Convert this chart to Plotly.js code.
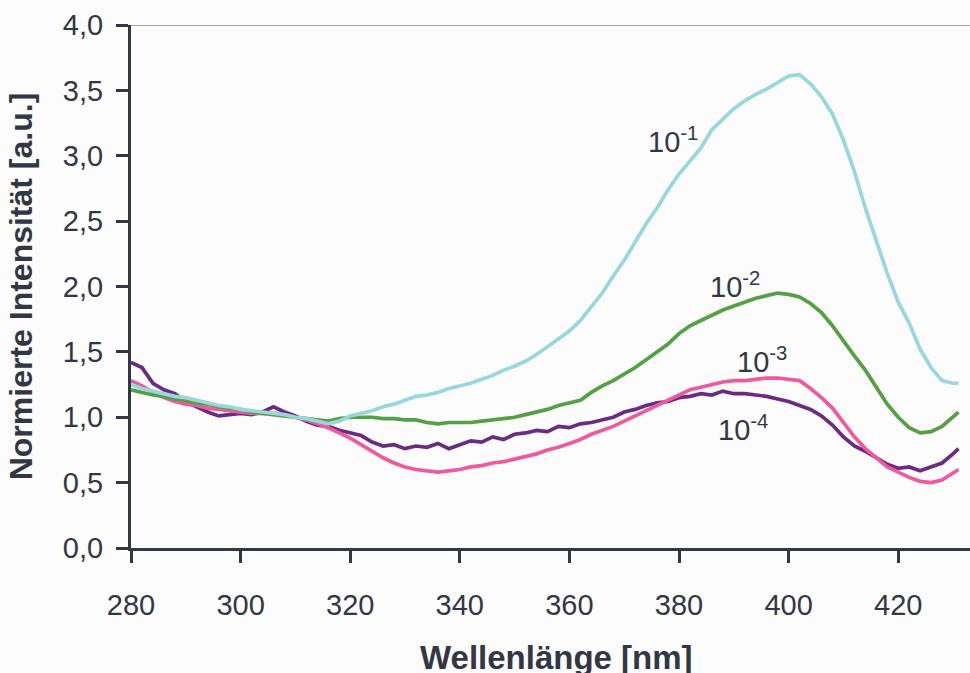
<!DOCTYPE html>
<html>
<head>
<meta charset="utf-8">
<script src="https://cdn.plot.ly/plotly-3.0.1.min.js"></script>
<style>
html,body{margin:0;padding:0;background:#fcfcfc;}
#chart{width:970px;height:673px;}
</style>
</head>
<body>
<div id="chart"></div>
<script>
// Wavelength (nm)
const wavelength = [280,282,284,286,288,290,292,294,296,298,300,302,304,306,308,310,312,314,316,318,
320,322,324,326,328,330,332,334,336,338,340,342,344,346,348,350,352,354,356,358,
360,362,364,366,368,370,372,374,376,378,380,382,384,386,388,390,392,394,396,398,
400,402,404,406,408,410,412,414,416,418,420,422,424,426,428,430,431];

const seriesNames = ["10^-1","10^-2","10^-3","10^-4"];

const conc1e1 = [1.25,1.22,1.20,1.18,1.16,1.15,1.13,1.11,1.09,1.08,1.06,1.05,1.04,1.03,1.02,1.00,0.99,0.97,0.95,0.97,
1.01,1.03,1.05,1.08,1.10,1.13,1.16,1.17,1.19,1.22,1.24,1.26,1.29,1.32,1.36,1.39,1.43,1.48,1.54,1.60,
1.66,1.74,1.84,1.95,2.08,2.20,2.34,2.48,2.60,2.74,2.86,2.96,3.06,3.20,3.28,3.36,3.42,3.47,3.51,3.56,
3.61,3.62,3.55,3.45,3.32,3.12,2.88,2.60,2.34,2.10,1.88,1.72,1.52,1.38,1.28,1.26,1.26];

const conc1e2 = [1.21,1.19,1.17,1.16,1.14,1.13,1.11,1.10,1.08,1.07,1.06,1.04,1.03,1.02,1.01,1.00,0.99,0.98,0.97,0.99,
1.00,1.00,1.00,0.99,0.99,0.98,0.98,0.96,0.95,0.96,0.96,0.96,0.97,0.98,0.99,1.00,1.02,1.04,1.06,1.09,
1.11,1.13,1.19,1.24,1.28,1.33,1.38,1.44,1.50,1.56,1.64,1.70,1.74,1.78,1.82,1.85,1.88,1.91,1.93,1.95,
1.94,1.92,1.87,1.80,1.70,1.58,1.47,1.36,1.23,1.10,1.00,0.92,0.88,0.89,0.93,1.00,1.04];

const conc1e3 = [1.28,1.24,1.19,1.15,1.12,1.10,1.09,1.07,1.06,1.05,1.04,1.03,1.03,1.03,1.02,1.00,0.98,0.95,0.92,0.88,
0.84,0.79,0.74,0.69,0.65,0.62,0.60,0.59,0.58,0.59,0.60,0.62,0.63,0.65,0.66,0.68,0.70,0.72,0.75,0.77,
0.80,0.83,0.87,0.90,0.93,0.97,1.01,1.05,1.09,1.13,1.17,1.21,1.23,1.25,1.27,1.28,1.28,1.29,1.30,1.30,
1.29,1.28,1.22,1.15,1.07,0.96,0.85,0.76,0.69,0.62,0.58,0.54,0.51,0.50,0.52,0.57,0.60];

const conc1e4 = [1.42,1.38,1.26,1.21,1.18,1.12,1.08,1.04,1.01,1.02,1.03,1.02,1.04,1.08,1.04,1.01,0.97,0.94,0.93,0.90,
0.88,0.86,0.81,0.78,0.79,0.76,0.78,0.77,0.80,0.76,0.79,0.82,0.81,0.85,0.83,0.87,0.88,0.90,0.89,0.93,
0.92,0.95,0.96,0.98,1.00,1.04,1.06,1.09,1.11,1.12,1.15,1.16,1.18,1.17,1.20,1.18,1.18,1.17,1.16,1.14,
1.12,1.09,1.06,1.01,0.94,0.85,0.78,0.74,0.69,0.64,0.61,0.62,0.59,0.62,0.65,0.72,0.76];

const yTickVals = [0,0.5,1,1.5,2,2.5,3,3.5,4];
const xTickVals = [280,300,320,340,360,380,400,420];

const textColor = "#333744";
const font = "Liberation Sans, Arial, sans-serif";

function tr(y, color, name){
  return {x: wavelength, y: y, type: "scatter", mode: "lines", name: name,
          line: {color: color, width: 3.7}, hoverinfo: "skip"};
}

const data = [
  tr(conc1e4, "#6a2c82", seriesNames[3]),
  tr(conc1e3, "#ee5a9c", seriesNames[2]),
  tr(conc1e2, "#55a044", seriesNames[1]),
  tr(conc1e1, "#98d8dc", seriesNames[0])
];

const annFont = {family: font, size: 29, color: textColor};
const layout = {
  width: 970, height: 673,
  paper_bgcolor: "#fcfcfc", plot_bgcolor: "#fcfcfc",
  margin: {l: 131, r: 0, t: 25, b: 125},
  showlegend: false,
  separators: ",.",
  font: {family: font, color: textColor, size: 29},
  xaxis: {
    range: [280, 433.1], tickvals: xTickVals, ticktext: xTickVals.map(String),
    showgrid: false, zeroline: false, showline: true, linecolor: textColor, linewidth: 3,
    ticks: "outside", ticklen: 12, tickwidth: 3, tickcolor: textColor,
    ticklabelstandoff: 17,
    tickfont: {family: font, size: 29, color: textColor}
  },
  yaxis: {
    range: [0, 4], tickvals: yTickVals, tickformat: ".1f",
    showgrid: false, zeroline: false, showline: true, linecolor: textColor, linewidth: 3,
    ticks: "outside", ticklen: 12, tickwidth: 3, tickcolor: textColor,
    ticklabelstandoff: 7,
    tickfont: {family: font, size: 29, color: textColor},
    title: {text: "<b>Normierte Intensität [a.u.]</b>", font: {family: font, size: 32, color: textColor}, standoff: 21}
  },
  shapes: [
    {type: "line", xref: "paper", yref: "y", x0: 0, x1: 1, y0: 4, y1: 4,
     line: {color: "#aaa5a6", width: 2}, layer: "below"}
  ],
  annotations: [
    {x: 0.5066, y: -0.1702, xref: "paper", yref: "paper", xanchor: "center", yanchor: "top",
     text: "<b>Wellenlänge [nm]</b>", showarrow: false,
     font: {family: font, size: 33, color: textColor}},
    {x: 378.9, y: 3.12, xref: "x", yref: "y", text: "10<sup>-1</sup>", showarrow: false, font: annFont},
    {x: 390.2, y: 2.01, xref: "x", yref: "y", text: "10<sup>-2</sup>", showarrow: false, font: annFont},
    {x: 395.2, y: 1.44, xref: "x", yref: "y", text: "10<sup>-3</sup>", showarrow: false, font: annFont},
    {x: 391.7, y: 0.92, xref: "x", yref: "y", text: "10<sup>-4</sup>", showarrow: false, font: annFont}
  ]
};

Plotly.newPlot("chart", data, layout, {displayModeBar: false, staticPlot: true});
</script>
</body>
</html>
